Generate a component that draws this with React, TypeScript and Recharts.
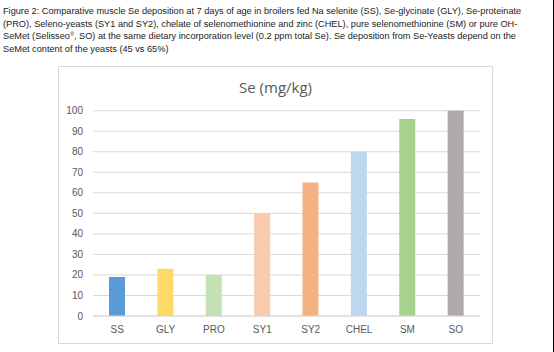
import React from "react";
import { BarChart, Bar, XAxis, YAxis, CartesianGrid, Cell } from "recharts";

const categories = ["SS", "GLY", "PRO", "SY1", "SY2", "CHEL", "SM", "SO"];
const seValues = [19, 23, 20, 50, 65, 80, 96, 100];
const barColors = ["#5B9BD5", "#FFD966", "#C5E0B4", "#F8CBAD", "#F4B183", "#BDD7EE", "#A9D18E", "#AEAAAA"];
const yTicks = [0, 10, 20, 30, 40, 50, 60, 70, 80, 90, 100];
const captionLines = [
  "Figure 2: Comparative muscle Se deposition at 7 days of age in broilers fed Na selenite (SS), Se-glycinate (GLY), Se-proteinate",
  "(PRO), Seleno-yeasts (SY1 and SY2), chelate of selenomethionine and zinc (CHEL), pure selenomethionine (SM) or pure OH-",
  "SeMet (Selisseo|\u00AE|, SO) at the same dietary incorporation level (0.2 ppm total Se). Se deposition from Se-Yeasts depend on the",
  "SeMet content of the yeasts (45 vs 65%)",
];
const chartTitle = "Se (mg/kg)";

const data = categories.map((c, i) => ({ name: c, value: seValues[i] }));

function renderLine(line: string) {
  const parts = line.split("|");
  return parts.map((p, i) =>
    i % 2 === 1 ? (
      <sup key={i} style={{ fontSize: "0.6em", verticalAlign: "0.6em", lineHeight: 0 }}>{p}</sup>
    ) : (
      <span key={i}>{p}</span>
    )
  );
}

export default function App() {
  return (
    <div style={{ position: "fixed", left: 0, top: 0, width: 554, height: 352, background: "#fff", overflow: "hidden" }}>
      {captionLines.map((line, i) => (
        <div
          key={i}
          style={{
            position: "absolute",
            left: 3,
            top: 5 + i * 12.5,
            fontFamily: "'Liberation Sans', Arial, sans-serif",
            fontSize: 9.2,
            lineHeight: "12px",
            whiteSpace: "nowrap",
            color: "#222",
          }}
        >
          {renderLine(line)}
        </div>
      ))}
      <div
        style={{
          position: "absolute",
          left: 58,
          top: 66,
          width: 433,
          height: 276,
          border: "1px solid #d9d9d9",
        }}
      />
      <div style={{ position: "absolute", left: 553, top: 0, width: 1, height: 352, background: "#000" }} />
      <span
        style={{
          position: "absolute",
          left: 275.5,
          top: 77,
          transform: "translateX(-50%)",
          fontFamily: "'Open Sans', 'Liberation Sans', sans-serif",
          fontSize: 15,
          color: "#595959",
          whiteSpace: "nowrap",
        }}
      >
        {chartTitle}
      </span>
      <div style={{ position: "absolute", left: 0, top: 0 }}>
        <BarChart
          width={554}
          height={352}
          data={data}
          margin={{ top: 110.7, right: 74, bottom: 16, left: 63 }}
          barCategoryGap="33%"
        >
          <CartesianGrid vertical={false} stroke="#d9d9d9" />
          <XAxis
            dataKey="name"
            axisLine={{ stroke: "#d9d9d9" }}
            tickLine={false}
            height={20}
            tick={{ fill: "#595959", fontSize: 10, fontFamily: "'Liberation Sans', Arial, sans-serif" }}
            tickMargin={4}
            interval={0}
          />
          <YAxis
            width={30}
            domain={[0, 100]}
            ticks={yTicks}
            axisLine={false}
            tickLine={false}
            tick={{ fill: "#595959", fontSize: 10, fontFamily: "'Liberation Sans', Arial, sans-serif" }}
            tickSize={8}
            tickMargin={2}
            interval={0}
          />
          <Bar dataKey="value" isAnimationActive={false} barSize={16}>
            {data.map((d, i) => (
              <Cell key={d.name} fill={barColors[i]} />
            ))}
          </Bar>
        </BarChart>
      </div>
    </div>
  );
}
